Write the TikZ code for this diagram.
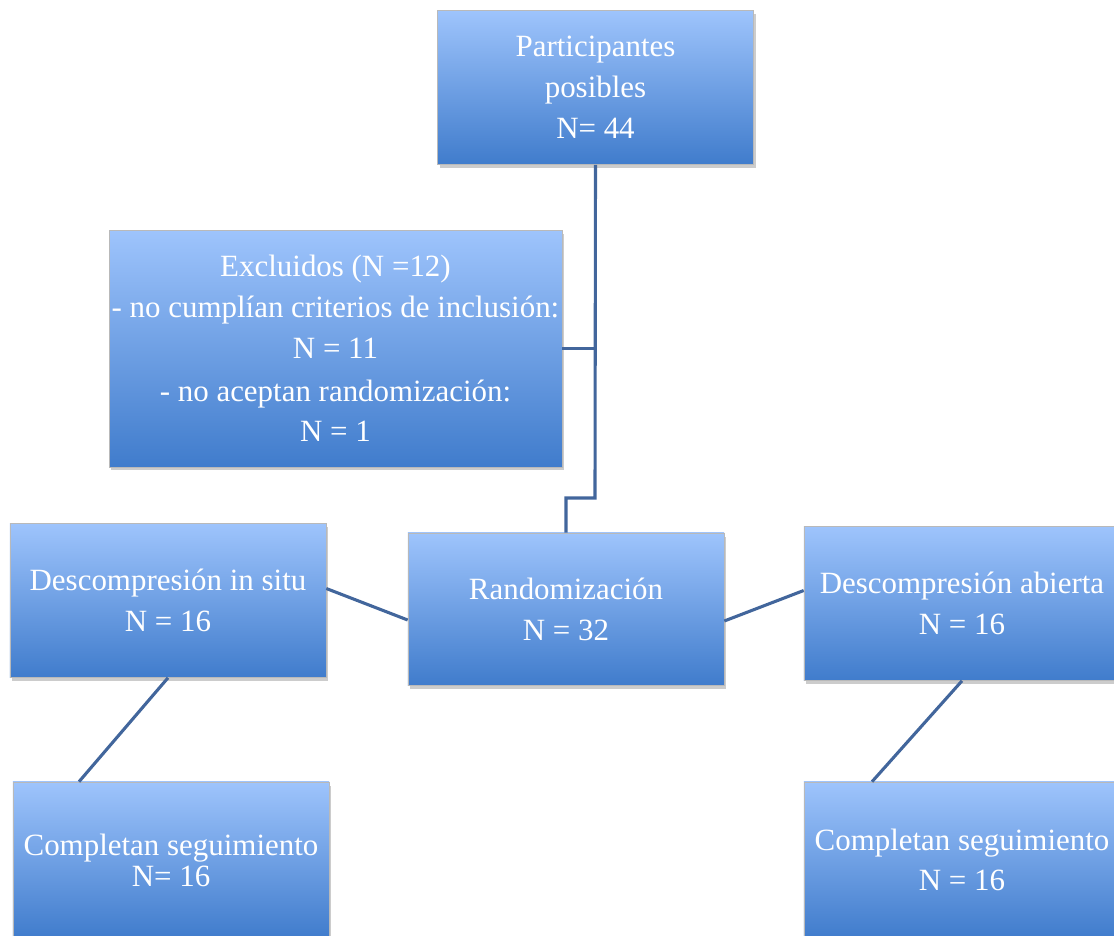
\documentclass[tikz,border=0pt]{standalone}
\usepackage{fontspec}
\setmainfont{Liberation Serif}
\usetikzlibrary{positioning,calc,shadows}
\definecolor{cajaArriba}{RGB}{158,196,252}
\definecolor{cajaAbajo}{RGB}{64,124,204}
\definecolor{lineaAzul}{RGB}{66,102,156}

\begin{document}
\begin{tikzpicture}[x=0.025cm,y=-0.025cm,
      caja/.style={rectangle,draw=gray!55,line width=0.4pt,top color=cajaArriba,bottom color=cajaAbajo,
        drop shadow={shadow xshift=1.5pt,shadow yshift=-2.5pt,fill=black!40,opacity=0.5},
        minimum width=7.9cm,minimum height=3.85cm,inner sep=0pt,align=center,text=white,
        font=\fontsize{22}{29}\selectfont},
      conector/.style={draw=lineaAzul,line width=2.2pt}]
    \useasboundingbox (0,0) rectangle (1114,936);

    % Cajas del diagrama de flujo.
    \node[caja] (part) at (595.5,87.5) {Participantes\\posibles\\N= 44};
    \node[caja,minimum width=11.32cm,minimum height=5.92cm] (excl) at (335.5,348.5)
      {Excluidos (N =12)\\- no cumplían criterios de inclusión:\\N = 11\\[1.5pt]- no aceptan randomización:\\N = 1};
    \node[caja,minimum height=3.8cm] (rand) at (566,609) {Randomización\\N = 32};
    \node[caja] (insitu) at (168,600.5) {Descompresión in situ\\N = 16};
    \node[caja] (abierta) at (962,603.5) {Descompresión abierta\\N = 16};
    \node[caja,minimum height=3.9cm] (segizq) at (171,860) {Completan seguimiento\\[-7pt]N= 16};
    \node[caja,minimum height=3.9cm] (segder) at (962,860) {Completan seguimiento\\N = 16};

    % Conectores.
    \coordinate (codo) at (595,498);
    \draw[conector] (part.south) -- (codo) -| (rand.north);
    \draw[conector] (excl.east) -- (excl.east -| part.south);
    \draw[conector] ($(insitu.east)+(0,-12)$) -- ($(rand.west)+(0,11)$);
    \draw[conector] ($(rand.east)+(0,12)$) -- ($(abierta.west)+(0,-13)$);
    \draw[conector] (insitu.south) -- ($(segizq.north)+(-92,0)$);
    \draw[conector] (abierta.south) -- ($(segder.north)+(-90,0)$);
  \end{tikzpicture}
\end{document}
